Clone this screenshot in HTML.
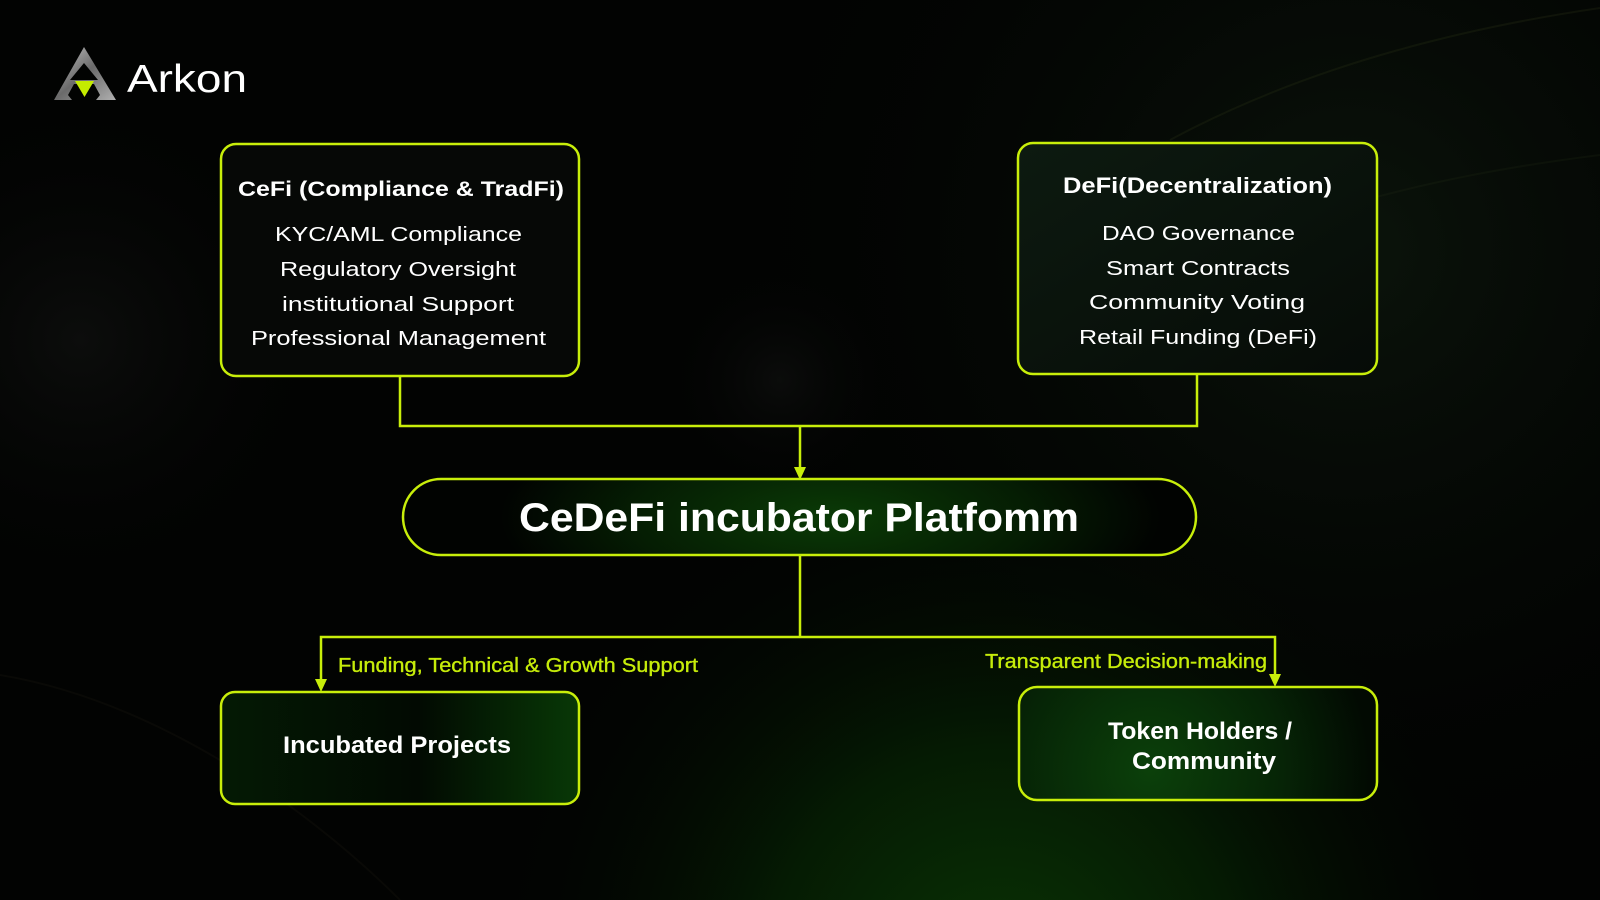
<!DOCTYPE html>
<html>
<head>
<meta charset="utf-8">
<style>
html,body{margin:0;padding:0;background:#020302;}
body{width:1600px;height:900px;overflow:hidden;}
svg{display:block;}
text{font-family:"Liberation Sans",sans-serif;}
</style>
</head>
<body>
<svg width="1600" height="900" viewBox="0 0 1600 900" xmlns="http://www.w3.org/2000/svg">
<defs>
  <radialGradient id="bgGlow" cx="1000" cy="980" r="520" gradientUnits="userSpaceOnUse">
    <stop offset="0" stop-color="#093305"/>
    <stop offset="0.45" stop-color="#051b03"/>
    <stop offset="1" stop-color="#020302" stop-opacity="0"/>
  </radialGradient>
  <radialGradient id="bgTR" cx="1350" cy="250" r="650" gradientUnits="userSpaceOnUse">
    <stop offset="0" stop-color="#0b140b"/>
    <stop offset="1" stop-color="#020302" stop-opacity="0"/>
  </radialGradient>
  <radialGradient id="bgL" cx="80" cy="340" r="260" gradientUnits="userSpaceOnUse">
    <stop offset="0" stop-color="#0c0d0c"/>
    <stop offset="1" stop-color="#020302" stop-opacity="0"/>
  </radialGradient>
  <radialGradient id="bgMid" cx="780" cy="380" r="120" gradientUnits="userSpaceOnUse">
    <stop offset="0" stop-color="#0b0c0b"/>
    <stop offset="1" stop-color="#020302" stop-opacity="0"/>
  </radialGradient>
  <linearGradient id="defiFill" x1="0" y1="0" x2="1" y2="1">
    <stop offset="0" stop-color="#0d1a10"/>
    <stop offset="1" stop-color="#060b07"/>
  </linearGradient>
  <radialGradient id="pillFill" cx="830" cy="517" r="330" gradientUnits="userSpaceOnUse" gradientTransform="translate(830 517) scale(1 0.35) translate(-830 -517)">
    <stop offset="0" stop-color="#0a3a06"/>
    <stop offset="0.6" stop-color="#051d03"/>
    <stop offset="1" stop-color="#010301"/>
  </radialGradient>
  <linearGradient id="incFill" x1="0" y1="0" x2="1" y2="0">
    <stop offset="0" stop-color="#041a04"/>
    <stop offset="0.55" stop-color="#020a02"/>
    <stop offset="1" stop-color="#083806"/>
  </linearGradient>
  <radialGradient id="tokFill" cx="1150" cy="770" r="220" gradientUnits="userSpaceOnUse">
    <stop offset="0" stop-color="#0b400a"/>
    <stop offset="0.6" stop-color="#062406"/>
    <stop offset="1" stop-color="#020a02"/>
  </radialGradient>
  <linearGradient id="metal" x1="0" y1="0" x2="1" y2="1">
    <stop offset="0" stop-color="#c8c8c8"/>
    <stop offset="0.5" stop-color="#6a6a6a"/>
    <stop offset="1" stop-color="#b0b0b0"/>
  </linearGradient>
</defs>

<!-- background -->
<rect x="0" y="0" width="1600" height="900" fill="#020302"/>
<rect x="0" y="0" width="1600" height="900" fill="url(#bgTR)"/>
<rect x="0" y="0" width="1600" height="900" fill="url(#bgL)"/>
<rect x="0" y="0" width="1600" height="900" fill="url(#bgMid)"/>
<rect x="0" y="0" width="1600" height="900" fill="url(#bgGlow)"/>
<path d="M1170,140 C1300,70 1450,30 1600,8" stroke="#3a4420" stroke-opacity="0.2" stroke-width="2" fill="none"/>
<path d="M1330,210 C1430,180 1520,165 1600,155" stroke="#2a3418" stroke-opacity="0.2" stroke-width="2" fill="none"/>
<path d="M0,675 C150,700 300,800 400,900" stroke="#2a2418" stroke-opacity="0.2" stroke-width="2" fill="none"/>

<!-- logo -->
<path fill-rule="evenodd" fill="url(#metal)" d="M84,47 L116,100 L54,100 Z M84,63 L98,80 L70,80 Z M74,84 L94,84 L100,95 L96,100 L72,100 L68,95 Z"/>
<path fill="#c4ec00" d="M75,81 L94,81 L84.5,97 Z"/>
<text x="127" y="92" font-size="39" fill="#ffffff" textLength="120" lengthAdjust="spacingAndGlyphs">Arkon</text>

<!-- connectors -->
<g stroke="#c8ee0a" stroke-width="2.5" fill="none">
  <polyline points="400,376 400,426 1197,426 1197,374"/>
  <line x1="800" y1="426" x2="800" y2="468"/>
  <line x1="800" y1="555" x2="800" y2="637"/>
  <polyline points="321,680 321,637 1275,637 1275,675"/>
</g>
<g fill="#c8ee0a">
  <path d="M794,467 L806,467 L800,480 Z"/>
  <path d="M315,679 L327,679 L321,692 Z"/>
  <path d="M1269,674 L1281,674 L1275,687 Z"/>
</g>

<!-- CeFi box -->
<rect x="221" y="144" width="358" height="232" rx="15" fill="#060806" stroke="#c8ee0a" stroke-width="2.5"/>
<text x="238" y="196" font-size="21" font-weight="bold" fill="#ffffff" textLength="326" lengthAdjust="spacingAndGlyphs">CeFi (Compliance &amp; TradFi)</text>
<g font-size="20" fill="#ffffff">
  <text x="275" y="241" textLength="247" lengthAdjust="spacingAndGlyphs">KYC/AML Compliance</text>
  <text x="280" y="276" textLength="236" lengthAdjust="spacingAndGlyphs">Regulatory Oversight</text>
  <text x="282" y="311" textLength="232" lengthAdjust="spacingAndGlyphs">institutional Support</text>
  <text x="251" y="345" textLength="295" lengthAdjust="spacingAndGlyphs">Professional Management</text>
</g>

<!-- DeFi box -->
<rect x="1018" y="143" width="359" height="231" rx="15" fill="url(#defiFill)" stroke="#c8ee0a" stroke-width="2.5"/>
<text x="1063" y="193" font-size="22" font-weight="bold" fill="#ffffff" textLength="269" lengthAdjust="spacingAndGlyphs">DeFi(Decentralization)</text>
<g font-size="20" fill="#ffffff">
  <text x="1102" y="240" textLength="193" lengthAdjust="spacingAndGlyphs">DAO Governance</text>
  <text x="1106" y="275" textLength="184" lengthAdjust="spacingAndGlyphs">Smart Contracts</text>
  <text x="1089" y="309" textLength="216" lengthAdjust="spacingAndGlyphs">Community Voting</text>
  <text x="1079" y="344" textLength="238" lengthAdjust="spacingAndGlyphs">Retail Funding (DeFi)</text>
</g>

<!-- Pill -->
<rect x="403" y="479" width="793" height="76" rx="38" fill="url(#pillFill)" stroke="#c8ee0a" stroke-width="2.5"/>
<text x="519" y="531" font-size="40" font-weight="bold" fill="#ffffff" textLength="560" lengthAdjust="spacingAndGlyphs">CeDeFi incubator Platfomm</text>

<!-- edge labels -->
<text x="338" y="672" font-size="20" fill="#c6ec0a" stroke="#c6ec0a" stroke-width="0.35" textLength="360" lengthAdjust="spacingAndGlyphs">Funding, Technical &amp; Growth Support</text>
<text x="985" y="668" font-size="20" fill="#c6ec0a" stroke="#c6ec0a" stroke-width="0.35" textLength="282" lengthAdjust="spacingAndGlyphs">Transparent Decision-making</text>

<!-- Incubated Projects -->
<rect x="221" y="692" width="358" height="112" rx="14" fill="url(#incFill)" stroke="#c8ee0a" stroke-width="2.5"/>
<text x="283" y="753" font-size="24" font-weight="bold" fill="#ffffff" textLength="228" lengthAdjust="spacingAndGlyphs">Incubated Projects</text>

<!-- Token Holders -->
<rect x="1019" y="687" width="358" height="113" rx="18" fill="url(#tokFill)" stroke="#c8ee0a" stroke-width="2.5"/>
<text x="1108" y="739" font-size="24" font-weight="bold" fill="#ffffff" textLength="184" lengthAdjust="spacingAndGlyphs">Token Holders /</text>
<text x="1132" y="769" font-size="24" font-weight="bold" fill="#ffffff" textLength="144" lengthAdjust="spacingAndGlyphs">Community</text>
</svg>
</body>
</html>
